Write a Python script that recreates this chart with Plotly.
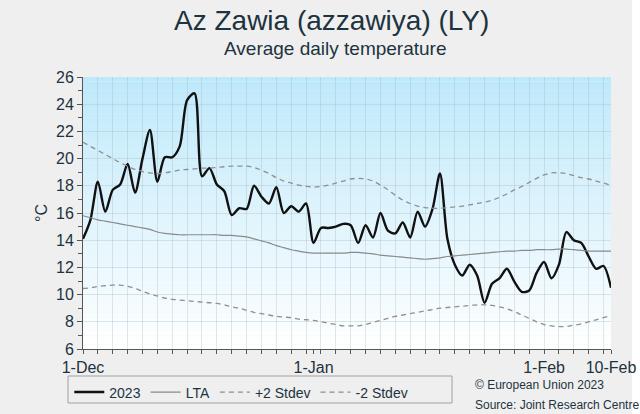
import plotly.graph_objects as go
import pandas as pd

start_date = "2022-12-01"
n_days = 72
dates = pd.date_range(start_date, periods=n_days, freq="D")

temp_2023 = [14.1, 15.5, 18.3, 16.1, 17.7, 18.1, 19.6, 17.5, 20.0, 22.1,
             18.3, 20.1, 20.1, 20.9, 24.3, 24.8, 18.7, 19.3, 18.1, 17.6,
             15.85, 16.35, 16.3, 18.0, 17.2, 16.7, 17.9, 16.0, 16.5, 16.1,
             16.7, 13.8, 14.9, 14.9, 15.0, 15.2, 15.1, 13.8, 15.1, 14.2,
             16.0, 14.7, 14.5, 15.3, 14.2, 16.1, 15.0, 16.3, 18.9, 14.1,
             12.2, 11.4, 12.2, 11.4, 9.4, 10.8, 11.2, 11.9, 10.95, 10.2,
             10.3, 11.6, 12.4, 11.2, 12.2, 14.6, 14.0, 13.8, 12.8, 11.9,
             12.1, 10.5]

lta = [15.8, 15.65, 15.5, 15.4, 15.3, 15.2, 15.1, 15.0, 14.9, 14.8,
       14.6, 14.5, 14.45, 14.4, 14.4, 14.4, 14.4, 14.4, 14.4, 14.35,
       14.35, 14.3, 14.25, 14.1, 13.95, 13.8, 13.6, 13.45, 13.3, 13.2,
       13.1, 13.05, 13.05, 13.05, 13.05, 13.05, 13.1, 13.1, 13.05, 13.0,
       12.9, 12.85, 12.8, 12.75, 12.7, 12.65, 12.6, 12.65, 12.7, 12.8,
       12.85, 12.9, 12.95, 13.0, 13.05, 13.1, 13.15, 13.2, 13.2, 13.25,
       13.25, 13.3, 13.3, 13.3, 13.35, 13.35, 13.3, 13.25, 13.2, 13.2,
       13.2, 13.2]

plus2 = [21.2, 20.9, 20.6, 20.3, 20.0, 19.7, 19.45, 19.2, 19.05, 18.95,
         18.9, 18.95, 19.05, 19.15, 19.2, 19.25, 19.3, 19.3, 19.35, 19.4,
         19.45, 19.45, 19.45, 19.35, 19.15, 18.9, 18.6, 18.35, 18.2, 18.05,
         17.95, 17.9, 17.95, 18.05, 18.2, 18.35, 18.5, 18.55, 18.5, 18.35,
         18.05, 17.7, 17.3, 16.95, 16.7, 16.5, 16.4, 16.35, 16.35, 16.4,
         16.45, 16.5, 16.6, 16.7, 16.8, 16.95, 17.15, 17.4, 17.7, 17.95,
         18.25, 18.55, 18.8, 18.95, 18.95, 18.9, 18.75, 18.6, 18.5, 18.35,
         18.2, 18.05]

minus2 = [10.45, 10.5, 10.6, 10.65, 10.7, 10.7, 10.6, 10.45, 10.25, 10.05,
          9.9, 9.75, 9.65, 9.6, 9.55, 9.5, 9.45, 9.4, 9.35, 9.25,
          9.1, 9.0, 8.85, 8.7, 8.6, 8.5, 8.4, 8.35, 8.3, 8.2,
          8.15, 8.1, 8.0, 7.9, 7.8, 7.7, 7.7, 7.7, 7.8, 7.95,
          8.1, 8.25, 8.4, 8.5, 8.6, 8.7, 8.8, 8.9, 9.0, 9.05,
          9.1, 9.15, 9.2, 9.25, 9.25, 9.2, 9.1, 8.95, 8.75, 8.5,
          8.25, 8.0, 7.8, 7.7, 7.65, 7.65, 7.75, 7.85, 8.0, 8.15,
          8.3, 8.45]

x_tick_dates = ["2022-12-01", "2023-01-01", "2023-02-01", "2023-02-10"]
x_tick_labels = ["1-Dec", "1-Jan", "1-Feb", "10-Feb"]
y_ticks = [6, 8, 10, 12, 14, 16, 18, 20, 22, 24, 26]

FONT = "Liberation Sans, Arial, sans-serif"
TXT = "#1d3340"
BG = "#efefef"

fig = go.Figure()
fig.add_trace(go.Scatter(x=dates, y=temp_2023, name="2023", mode="lines",
                         line=dict(color="#111111", width=2.4, shape="spline", smoothing=0.8)))
fig.add_trace(go.Scatter(x=dates, y=lta, name="LTA", mode="lines",
                         line=dict(color="#8a8a8a", width=1.2, shape="spline")))
fig.add_trace(go.Scatter(x=dates, y=plus2, name="+2 Stdev", mode="lines",
                         line=dict(color="#8f8f8f", width=1.3, dash="5px,4px", shape="spline")))
fig.add_trace(go.Scatter(x=dates, y=minus2, name="-2 Stdev", mode="lines",
                         line=dict(color="#8f8f8f", width=1.3, dash="5px,4px", shape="spline")))

# vertical gradient background of the plot area
shapes = []
steps = 60
top = (189, 233, 251)
bot = (255, 255, 255)
for i in range(steps):
    t = i / (steps - 1)
    c = tuple(int(round(top[k] + (bot[k] - top[k]) * t)) for k in range(3))
    shapes.append(dict(type="rect", xref="x domain", yref="y domain",
                       x0=0, x1=1, y0=1 - (i + 1) / steps, y1=1 - i / steps,
                       fillcolor="rgb(%d,%d,%d)" % c, line=dict(width=0), layer="below"))
# white strip on right edge
shapes.append(dict(type="rect", xref="paper", yref="paper", x0=1.04, x1=1.06, y0=-0.3, y1=1.3,
                   fillcolor="white", line=dict(width=0), layer="below"))
# legend frame
shapes.append(dict(type="rect", xref="paper", yref="paper",
                   x0=(68 - 83) / 528, x1=(452 - 83) / 528,
                   y0=(349 - 403) / 272, y1=(349 - 376) / 272,
                   fillcolor=BG, line=dict(color="#a0a0a0", width=1), layer="above"))

fig.update_layout(
    width=640, height=414,
    margin=dict(l=83, r=29, t=77, b=65, autoexpand=False),
    paper_bgcolor=BG, plot_bgcolor="rgba(0,0,0,0)",
    font=dict(family=FONT, color=TXT, size=14),
    shapes=shapes,
    showlegend=True,
    legend=dict(orientation="h", x=-0.026, y=-0.101, xanchor="left", yanchor="top",
                bgcolor="rgba(0,0,0,0)", borderwidth=0,
                font=dict(size=14, color=TXT), itemwidth=30,
                traceorder="normal"),
    annotations=[
        dict(text="Az Zawia (azzawiya) (LY)", x=(331 - 83) / 528, y=1.0, xref="paper", yref="paper",
             xanchor="center", yanchor="middle", yshift=57, showarrow=False,
             font=dict(size=28, color=TXT, family=FONT)),
        dict(text="Average daily temperature", x=(335 - 83) / 528, y=1.0, xref="paper", yref="paper",
             xanchor="center", yanchor="middle", yshift=29, showarrow=False,
             font=dict(size=19, color=TXT, family=FONT)),
        dict(text="© European Union 2023", x=(473 - 83) / 528, y=-0.132, xref="paper", yref="paper",
             xanchor="left", yanchor="middle", showarrow=False,
             font=dict(size=12, color=TXT, family=FONT)),
        dict(text="Source: Joint Research Centre", x=(473 - 83) / 528, y=-0.206, xref="paper", yref="paper",
             xanchor="left", yanchor="middle", showarrow=False,
             font=dict(size=12, color=TXT, family=FONT)),
    ],
)

fig.update_xaxes(
    range=[dates[0], dates[-1]], automargin=False,
    tickvals=pd.to_datetime(x_tick_dates), ticktext=x_tick_labels,
    showgrid=False, zeroline=False,
    showline=True, linecolor="#555555", linewidth=1,
    ticks="outside", ticklen=4, tickcolor="#555555",
    tickfont=dict(size=16, color=TXT),
    minor=dict(dtick=2 * 86400000, tick0=dates[0], showgrid=True,
               gridcolor="rgba(150,170,180,0.28)", gridwidth=1,
               ticks="outside", ticklen=4, tickcolor="#555555"),
)
fig.update_yaxes(
    range=[6, 26], tickvals=y_ticks, automargin=False,
    showgrid=True, gridcolor="rgba(150,170,180,0.28)", gridwidth=1,
    zeroline=False, showline=True, linecolor="#555555", linewidth=1,
    ticks="outside", ticklen=5, tickcolor="#555555",
    tickfont=dict(size=16, color=TXT),
    title=dict(text="°C", font=dict(size=16, color=TXT), standoff=4),
    minor=dict(dtick=1, ticks="outside", ticklen=4, tickcolor="#555555", showgrid=False),
)

fig.write_html("out.html", config={"displayModeBar": False},
               post_script="document.body.style.margin='0px';document.body.style.background='#ffffff';")
